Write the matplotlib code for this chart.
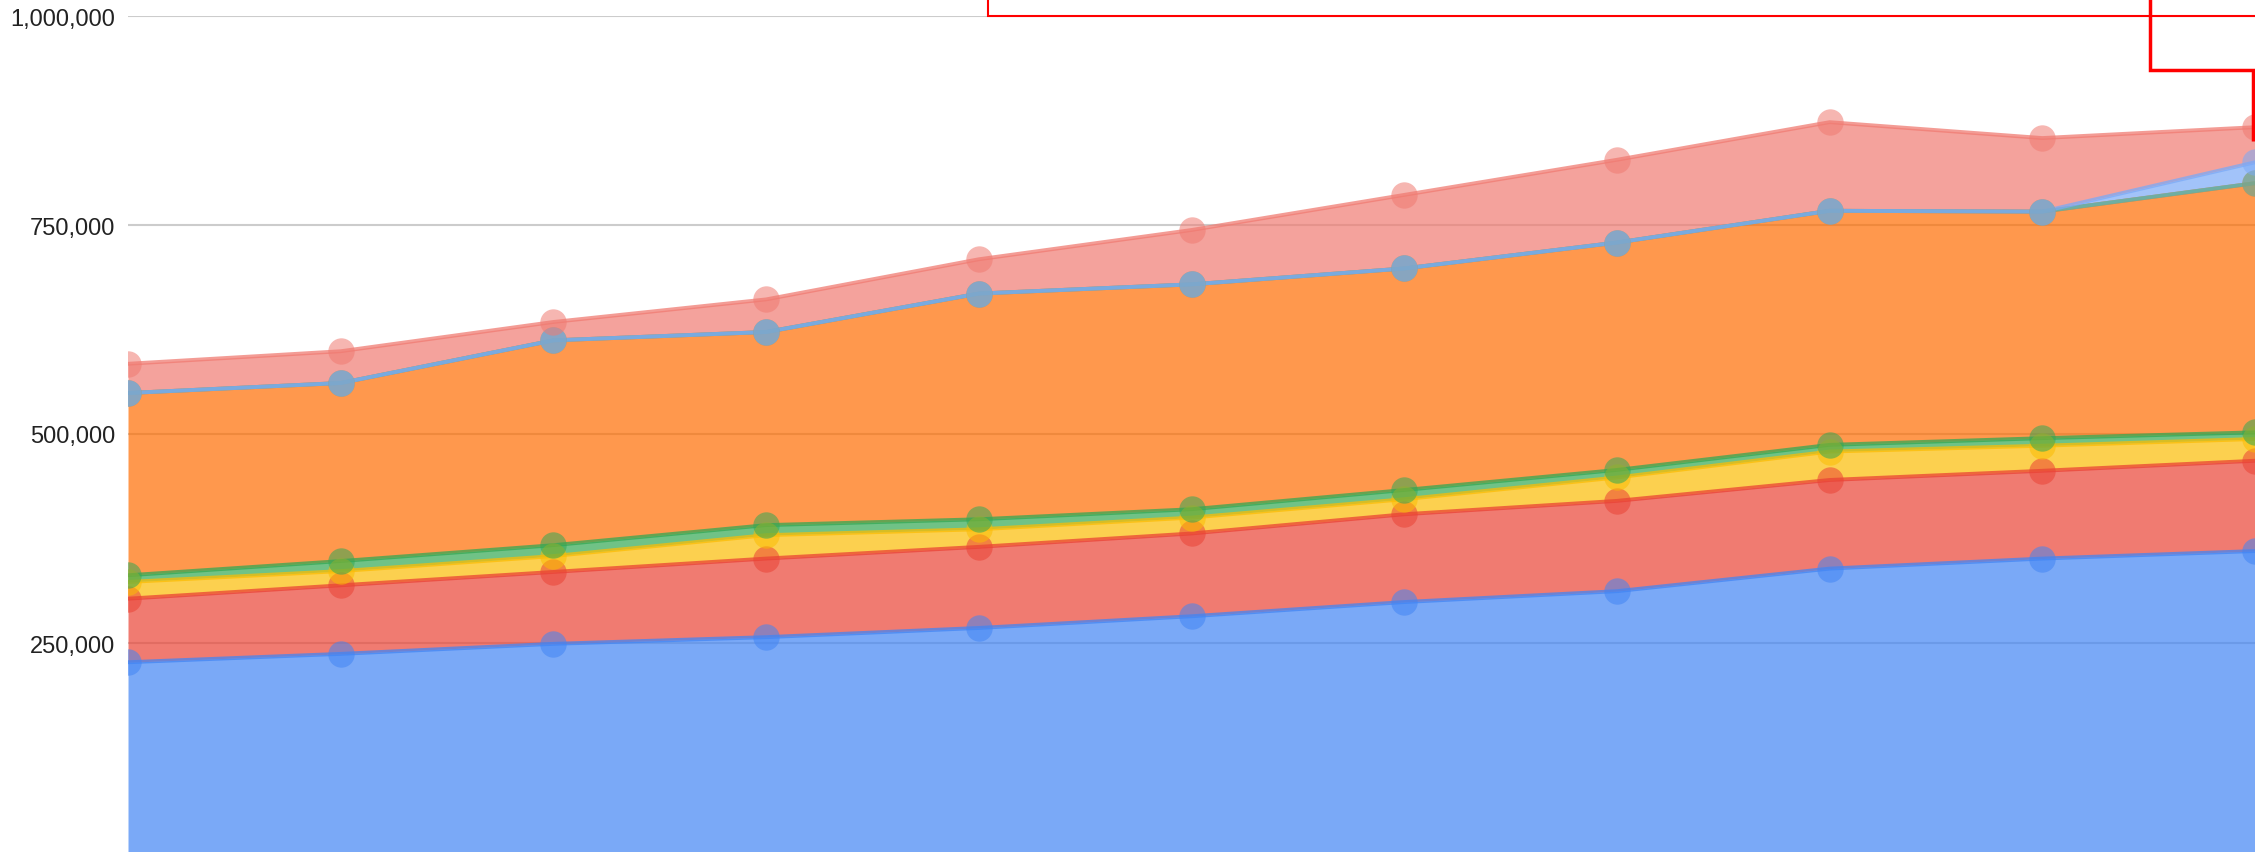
import numpy as np
import matplotlib
matplotlib.use("Agg")
import matplotlib.pyplot as plt
from matplotlib.lines import Line2D
from matplotlib.ticker import FuncFormatter

plt.rcParams['font.family'] = ['Liberation Sans', 'DejaVu Sans']

# eleven periods, values in thousands
periods = np.arange(11)
blue = [227, 237, 249, 257, 268, 282, 299, 312, 339, 351, 360]
red = [76, 82, 86, 94, 97, 99, 105, 108, 106, 105, 108]
yellow = [20, 17, 19, 28, 21, 19, 18, 28, 34, 30, 26]
green = [8, 12, 13, 12, 12, 10, 11, 9, 8, 9, 8]
orange = [218, 213, 245, 231, 270, 269, 265, 272, 280, 271, 298]
teal = [0, 0, 0, 0, 0, 0, 0, 0, 0, 0, 0]
light_blue = [0, 0, 0, 0, 0, 0, 0, 0, 0, 0, 25]
light_red = [35, 38, 22, 39, 41, 65, 88, 99, 106, 88, 42]

series = [blue, red, yellow, green, orange, teal, light_blue, light_red]
colors = ["#4285F4", "#EA4335", "#FBBC04", "#34A853", "#FF6D01",
          "#46BDC6", "#7BAAF7", "#F07B72"]
yticks = [250000, 500000, 750000, 1000000]

W, H = 2255, 853
fig = plt.figure(figsize=(W / 100, H / 100), dpi=100)
ax = fig.add_axes([128 / W, 0, 1 - 128 / W, 836 / H])

vals = np.array(series, dtype=float) * 1000
tops = np.cumsum(vals, axis=0)
bottoms = np.vstack([np.zeros(len(periods)), tops[:-1]])

for i, c in enumerate(colors):
    ax.fill_between(periods, bottoms[i], tops[i], color=c, alpha=0.7,
                    linewidth=0, zorder=2)
for i, c in enumerate(colors):
    ax.plot(periods, tops[i], color=c, lw=2.8, alpha=0.75, zorder=3)
for i, c in enumerate(colors):
    ax.plot(periods, tops[i], "o", color=c, ms=19, alpha=0.55,
            markeredgewidth=0, zorder=4)

ax.set_xlim(0, 10)
ax.set_ylim(0, 1000000)
ax.set_yticks(yticks)
ax.yaxis.set_major_formatter(FuncFormatter(lambda v, p: f"{int(v):,}"))
ax.set_xticks([])
ax.tick_params(axis='y', length=0, pad=9, labelsize=17, labelcolor="#222222")
ax.grid(axis='y', color="#cccccc", lw=1.5, zorder=1)
ax.set_axisbelow(True)
for s in ax.spines.values():
    s.set_visible(False)


def px_line(xs, ys, lw):
    fig.add_artist(Line2D([x / W for x in xs], [1 - y / H for y in ys],
                          transform=fig.transFigure, color="#ff0000",
                          lw=lw, solid_capstyle="butt",
                          solid_joinstyle="miter", zorder=10))


# red annotation boxes drawn over the screenshot
px_line([988, 988, 2260], [-2, 17, 17], 1.5)
px_line([2150, 2150, 2253, 2253], [-2, 71, 71, 142], 2.5)

fig.savefig("out.png", dpi=100)
